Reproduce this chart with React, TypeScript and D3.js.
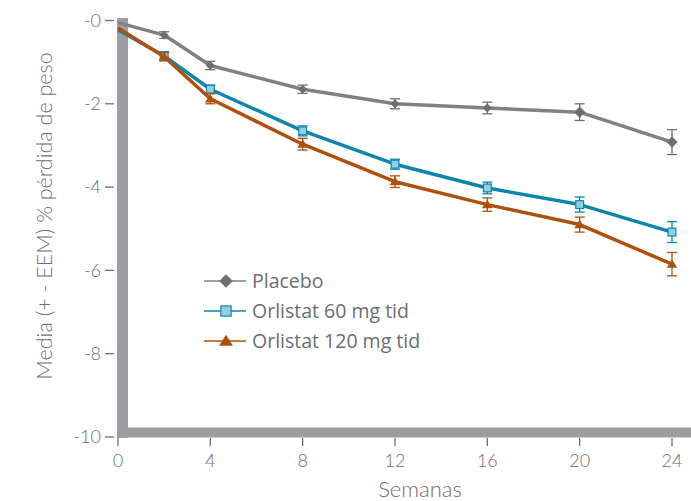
import React from "react";
import * as d3 from "d3";

const weeks = [0, 2, 4, 8, 12, 16, 20, 24];
const placebo = [-0.05, -0.35, -1.08, -1.65, -2.0, -2.1, -2.2, -2.92];
const placeboErr = [0, 0.08, 0.1, 0.1, 0.12, 0.14, 0.2, 0.3];
const orl60 = [-0.22, -0.85, -1.65, -2.65, -3.45, -4.02, -4.42, -5.08];
const orl60Err = [0, 0.1, 0.1, 0.12, 0.12, 0.14, 0.18, 0.25];
const orl120 = [-0.18, -0.87, -1.88, -2.97, -3.87, -4.42, -4.9, -5.85];
const orl120Err = [0, 0.1, 0.12, 0.14, 0.14, 0.16, 0.18, 0.28];
const xTicks = [0, 4, 8, 12, 16, 20, 24];
const yTicks = [0, -2, -4, -6, -8, -10];
const seriesNames = ["Placebo", "Orlistat 60 mg tid", "Orlistat 120 mg tid"];

const AXIS = "#9d9ea1";
const TEXT = "#6d6e71";

export default function App() {
  const x = d3.scaleLinear().domain([0, 24]).range([118, 672]);
  const y = d3.scaleLinear().domain([0, -10]).range([20.5, 437]);
  const line = d3
    .line<number>()
    .x((_, i) => x(weeks[i]))
    .y((v) => y(v));

  const series = [
    { name: seriesNames[0], vals: placebo, err: placeboErr, color: "#808184", mk: "diamond", fill: "#6d6e71", stroke: "#6d6e71" },
    { name: seriesNames[1], vals: orl60, err: orl60Err, color: "#0e86ac", mk: "square", fill: "#93cfe2", stroke: "#0e86ac" },
    { name: seriesNames[2], vals: orl120, err: orl120Err, color: "#b0500f", mk: "triangle", fill: "#b0500f", stroke: "#b0500f" },
  ];

  const marker = (s: any, cx: number, cy: number, size: number, key: string) => {
    if (s.mk === "diamond") {
      const r = size * 0.75;
      return <path key={key} d={`M${cx},${cy - r}L${cx + r},${cy}L${cx},${cy + r}L${cx - r},${cy}Z`} fill={s.fill} stroke={s.stroke} strokeWidth={0.8} />;
    }
    if (s.mk === "square") {
      const r = size * 0.6;
      return <rect key={key} x={cx - r} y={cy - r} width={2 * r} height={2 * r} fill={s.fill} stroke={s.stroke} strokeWidth={1.2} />;
    }
    const r = size * 0.75;
    return <path key={key} d={`M${cx},${cy - r}L${cx + r * 1.1},${cy + r * 0.75}L${cx - r * 1.1},${cy + r * 0.75}Z`} fill={s.fill} />;
  };

  return (
    <svg width={691} height={501} style={{ position: "absolute", left: 0, top: 0 }}>
      <rect width={691} height={501} fill="#fff" />
      {/* axes bars */}
      <rect x={117} y={18} width={11} height={420} fill={AXIS} />
      <rect x={117} y={427.5} width={574} height={10} fill={AXIS} />
      {/* y ticks */}
      {yTicks.map((t) => (
        <g key={"y" + t}>
          <line x1={105} x2={114} y1={y(t)} y2={y(t)} stroke={TEXT} strokeWidth={1.3} />
          <text x={101} y={y(t)} dy="0.35em" textAnchor="end" fontFamily="Lato" fontWeight={300} fontSize={18} fill={TEXT}>
            {"-" + Math.abs(t)}
          </text>
        </g>
      ))}
      {/* x ticks */}
      {xTicks.map((t) => (
        <g key={"x" + t}>
          <line x1={x(t)} x2={x(t)} y1={438} y2={446} stroke={TEXT} strokeWidth={1.3} />
          <text x={x(t)} y={467} textAnchor="middle" fontFamily="Lato" fontWeight={300} fontSize={18} fill={TEXT}>
            {t}
          </text>
        </g>
      ))}
      <text x={420} y={497} textAnchor="middle" fontFamily="Lato" fontWeight={300} fontSize={22} fill={TEXT}>
        Semanas
      </text>
      <text transform="translate(52,216) rotate(-90)" textAnchor="middle" fontFamily="Lato" fontWeight={300} fontSize={21.5} fill={TEXT}>
        Media (+ - EEM) % pérdida de peso
      </text>
      {/* series */}
      {series.map((s, si) => (
        <g key={s.name}>
          <path d={line(s.vals) || ""} fill="none" stroke={s.color} strokeWidth={3.5} strokeLinejoin="round" />
          {s.vals.map((v, i) =>
            i === 0 ? null : (
              <g key={i} stroke={s.stroke} strokeWidth={1.3}>
                <line x1={x(weeks[i])} x2={x(weeks[i])} y1={y(v - s.err[i])} y2={y(v + s.err[i])} />
                <line x1={x(weeks[i]) - 5} x2={x(weeks[i]) + 5} y1={y(v - s.err[i])} y2={y(v - s.err[i])} />
                <line x1={x(weeks[i]) - 5} x2={x(weeks[i]) + 5} y1={y(v + s.err[i])} y2={y(v + s.err[i])} />
              </g>
            )
          )}
          {s.vals.map((v, i) => (i === 0 ? null : marker(s, x(weeks[i]), y(v), si === 0 ? (i >= 6 ? 7 : 5.5) : 6.5, "m" + i)))}
        </g>
      ))}
      {/* legend */}
      {series.map((s, i) => {
        const ly = 281 + i * 30;
        return (
          <g key={"lg" + i}>
            <line x1={204} x2={246} y1={ly} y2={ly} stroke={s.color} strokeWidth={1.5} />
            {marker(s, 226, ly, 8.5, "lm")}
            <text x={252} y={ly} dy="0.35em" fontFamily="Open Sans" fontSize={19.5} fill={TEXT}>
              {s.name}
            </text>
          </g>
        );
      })}
    </svg>
  );
}
